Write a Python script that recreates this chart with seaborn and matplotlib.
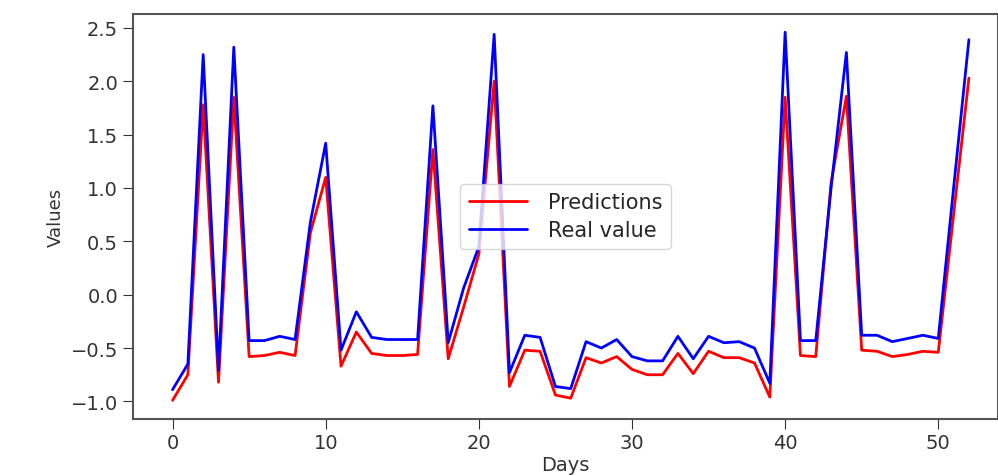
import pandas as pd
import seaborn as sns
import matplotlib.pyplot as plt

days = list(range(53))

predictions = [
    -0.99, -0.75, 1.78, -0.82, 1.85, -0.58, -0.57, -0.54, -0.57, 0.58,
    1.10, -0.67, -0.35, -0.55, -0.57, -0.57, -0.56, 1.36, -0.60, -0.12,
    0.38, 2.00, -0.86, -0.52, -0.53, -0.94, -0.97, -0.59, -0.64, -0.58,
    -0.70, -0.75, -0.75, -0.55, -0.74, -0.53, -0.59, -0.59, -0.64, -0.96,
    1.85, -0.57, -0.58, 1.05, 1.86, -0.52, -0.53, -0.58, -0.56, -0.53,
    -0.54, 0.75, 2.03,
]

real_value = [
    -0.89, -0.65, 2.25, -0.71, 2.32, -0.43, -0.43, -0.39, -0.42, 0.68,
    1.42, -0.52, -0.16, -0.40, -0.42, -0.42, -0.42, 1.77, -0.45, 0.06,
    0.45, 2.44, -0.73, -0.38, -0.40, -0.86, -0.88, -0.44, -0.50, -0.42,
    -0.58, -0.62, -0.62, -0.39, -0.60, -0.39, -0.45, -0.44, -0.50, -0.83,
    2.46, -0.43, -0.43, 1.00, 2.27, -0.38, -0.38, -0.44, -0.41, -0.38,
    -0.41, 1.00, 2.39,
]

df = pd.concat([
    pd.DataFrame({"Days": days, "Values": predictions, "series": "Predictions"}),
    pd.DataFrame({"Days": days, "Values": real_value, "series": "Real value"}),
])

sns.set_style("ticks")

fig = plt.figure(figsize=(9.98, 4.77), dpi=100)
ax = fig.add_axes([0.133, 0.12, 0.867, 0.849])

sns.lineplot(data=df, x="Days", y="Values", hue="series",
             palette={"Predictions": "red", "Real value": "blue"},
             linewidth=2, ax=ax)

ax.set_xlim(-2.6, 53.9)
ax.set_xticks([0, 10, 20, 30, 40, 50])
ax.set_yticks([-1.0, -0.5, 0.0, 0.5, 1.0, 1.5, 2.0, 2.5])
ax.tick_params(labelsize=14, colors="#333333", length=7)
for s in ax.spines.values():
    s.set_color("#555555")
    s.set_linewidth(1.5)
ax.set_xlabel("Days", fontsize=14, color="#333333", labelpad=2)
ax.set_ylabel("Values", fontsize=13, color="#333333")
ax.legend(loc="center", fontsize=15, title=None, handlelength=2.8,
          handletextpad=1.0, borderpad=0.4, labelspacing=0.4)

fig.savefig("out.png", dpi=100)
